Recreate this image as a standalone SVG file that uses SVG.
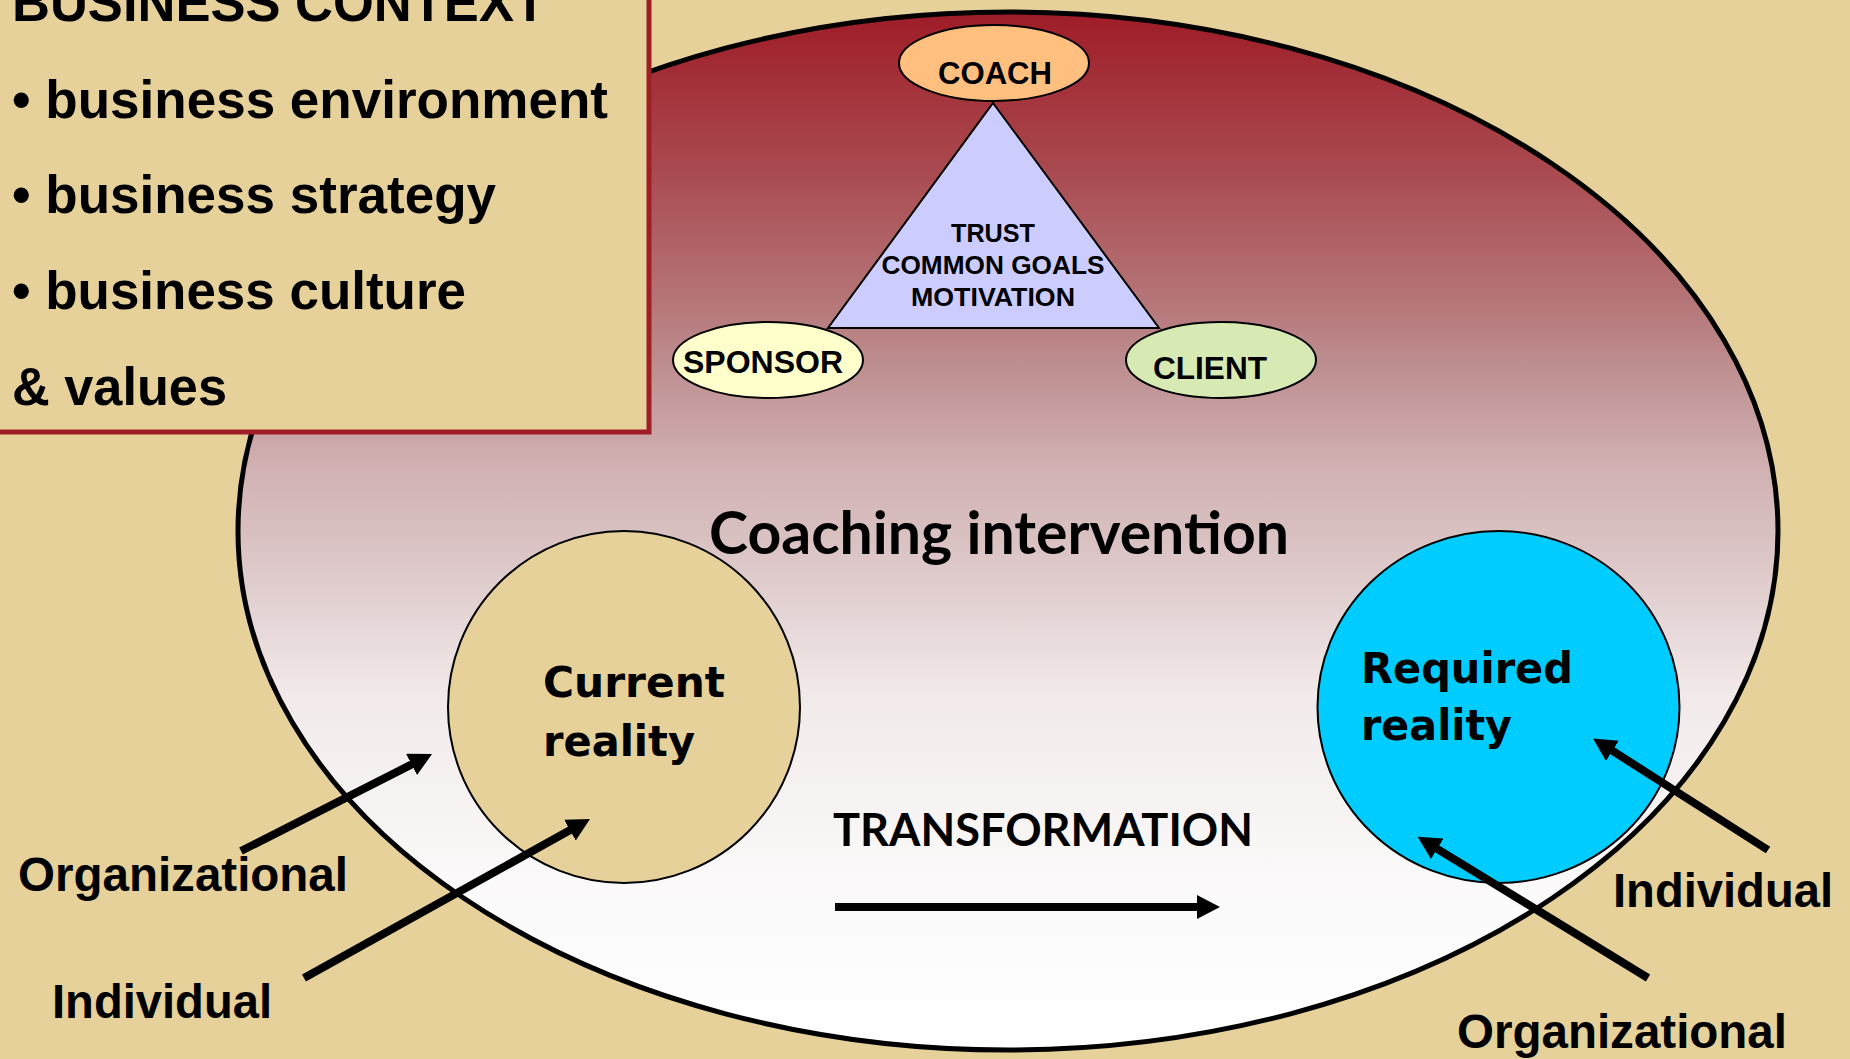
<svg xmlns="http://www.w3.org/2000/svg" width="1850" height="1059" viewBox="0 0 1850 1059">
<style>
.narrow{font-family:"Liberation Sans",Arial,sans-serif;font-weight:bold;fill:#000}
.verd{font-family:"DejaVu Sans",Verdana,sans-serif;font-weight:bold;fill:#000}
.cal{font-family:Lato,"Open Sans",sans-serif;font-weight:bold;fill:#000}
.node{stroke:#000;stroke-width:2}
.arrow{stroke:#000;stroke-width:8;fill:none;marker-end:url(#ah)}
</style>
<defs>
<linearGradient id="bg" x1="0" y1="0" x2="0" y2="1">
<stop offset="0" stop-color="#9E1C27"/>
<stop offset="0.15" stop-color="#A9494F"/>
<stop offset="0.28" stop-color="#B57679"/>
<stop offset="0.335" stop-color="#BD8C8E"/>
<stop offset="0.44" stop-color="#D1B1B3"/>
<stop offset="0.5" stop-color="#D8BFC0"/>
<stop offset="0.66" stop-color="#F2EAEA"/>
<stop offset="0.86" stop-color="#FCFBFB"/>
<stop offset="1" stop-color="#FFFFFF"/>
</linearGradient>
<marker id="ah" markerUnits="userSpaceOnUse" viewBox="0 0 23 24" refX="3" refY="12" markerWidth="23" markerHeight="24" orient="auto">
<path d="M0,0 L23,12 L0,24 z" fill="#000"/>
</marker>
</defs>
<rect x="0" y="0" width="1850" height="1059" fill="#E5D199"/>

<g id="coaching-intervention">
<ellipse cx="1008" cy="531" rx="770" ry="519" fill="url(#bg)" stroke="#000" stroke-width="5"/>
<text class="cal" x="709" y="554" font-size="60" textLength="580" lengthAdjust="spacingAndGlyphs">Coaching intervention</text>
</g>

<g id="business-context">
<rect x="-10" y="-10" width="659" height="442" fill="#E5D199" stroke="#A01E28" stroke-width="5"/>
<text class="narrow" x="12" y="21" font-size="54" textLength="534" lengthAdjust="spacingAndGlyphs">BUSINESS CONTEXT</text>
<text class="narrow" x="12" y="118" font-size="54" textLength="596" lengthAdjust="spacingAndGlyphs">• business environment</text>
<text class="narrow" x="12" y="213" font-size="54" textLength="484" lengthAdjust="spacingAndGlyphs">• business strategy</text>
<text class="narrow" x="12" y="309" font-size="54" textLength="454" lengthAdjust="spacingAndGlyphs">• business culture</text>
<text class="narrow" x="12" y="405" font-size="54" textLength="215" lengthAdjust="spacingAndGlyphs">&amp; values</text>
</g>

<g id="triangle">
<polygon class="node" points="993,103 1159,328 828,328" fill="#CCCCFF"/>
<text class="narrow" x="993" y="242" font-size="26" text-anchor="middle" textLength="84" lengthAdjust="spacingAndGlyphs">TRUST</text>
<text class="narrow" x="993" y="274" font-size="26" text-anchor="middle" textLength="223" lengthAdjust="spacingAndGlyphs">COMMON GOALS</text>
<text class="narrow" x="993" y="306" font-size="26" text-anchor="middle" textLength="164" lengthAdjust="spacingAndGlyphs">MOTIVATION</text>
</g>

<g id="coach">
<ellipse class="node" cx="994" cy="63" rx="95" ry="38" fill="#FFBF7F"/>
<text class="narrow" x="995" y="84" font-size="31" text-anchor="middle" textLength="114" lengthAdjust="spacingAndGlyphs">COACH</text>
</g>

<g id="sponsor">
<ellipse class="node" cx="768" cy="360" rx="95" ry="38" fill="#FFFFCC"/>
<text class="narrow" x="763" y="373" font-size="31" text-anchor="middle" textLength="160" lengthAdjust="spacingAndGlyphs">SPONSOR</text>
</g>

<g id="client">
<ellipse class="node" cx="1221" cy="360" rx="95" ry="38" fill="#D8EAB4"/>
<text class="narrow" x="1210" y="379" font-size="31" text-anchor="middle" textLength="114" lengthAdjust="spacingAndGlyphs">CLIENT</text>
</g>

<g id="current-reality">
<ellipse class="node" cx="624" cy="707" rx="176" ry="176" fill="#E5D199"/>
<text class="verd" x="543" y="697" font-size="43" textLength="182" lengthAdjust="spacingAndGlyphs">Current</text>
<text class="verd" x="543" y="756" font-size="43" textLength="152" lengthAdjust="spacingAndGlyphs">reality</text>
</g>

<g id="required-reality">
<ellipse class="node" cx="1498.5" cy="707" rx="181" ry="176" fill="#00CCFF"/>
<text class="verd" x="1361" y="683" font-size="43" textLength="212" lengthAdjust="spacingAndGlyphs">Required</text>
<text class="verd" x="1361" y="740" font-size="43" textLength="151" lengthAdjust="spacingAndGlyphs">reality</text>
</g>

<g id="transformation">
<text class="cal" x="833" y="846" font-size="46" textLength="420" lengthAdjust="spacingAndGlyphs">TRANSFORMATION</text>
</g>

<g id="labels">
<text class="narrow" x="18" y="891" font-size="48" textLength="330" lengthAdjust="spacingAndGlyphs">Organizational</text>
<text class="narrow" x="52" y="1018" font-size="48" textLength="220" lengthAdjust="spacingAndGlyphs">Individual</text>
<text class="narrow" x="1613" y="907" font-size="48" textLength="220" lengthAdjust="spacingAndGlyphs">Individual</text>
<text class="narrow" x="1457" y="1048" font-size="48" textLength="330" lengthAdjust="spacingAndGlyphs">Organizational</text>
</g>

<g id="connectors">
<line class="arrow" x1="835" y1="907" x2="1200" y2="907"/>
<line class="arrow" x1="241" y1="851" x2="414.2" y2="763.1"/>
<line class="arrow" x1="304" y1="978" x2="572.5" y2="828.7"/>
<line class="arrow" x1="1768" y1="850" x2="1609.9" y2="749.2"/>
<line class="arrow" x1="1648" y1="978" x2="1434.7" y2="847.3"/>
</g>
</svg>
